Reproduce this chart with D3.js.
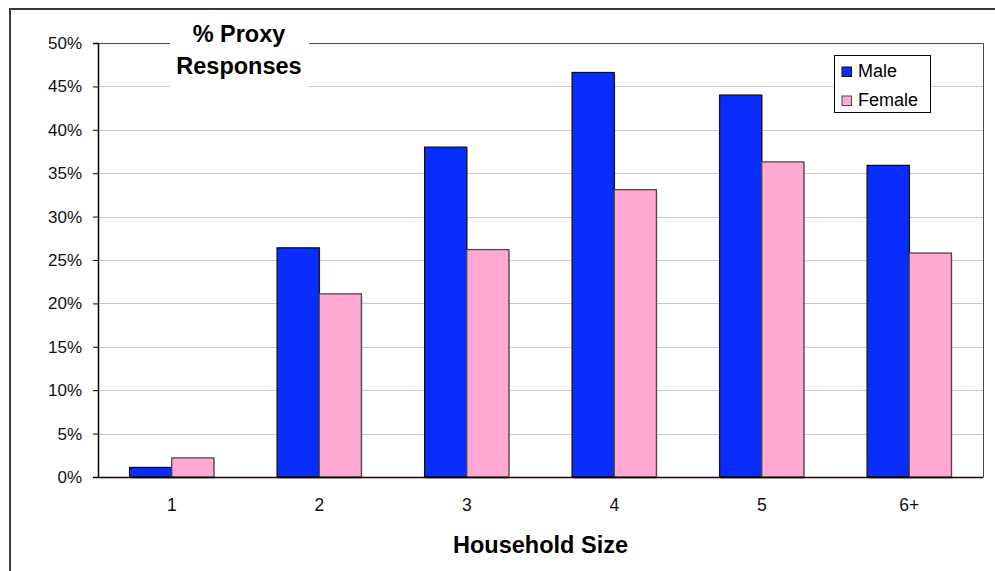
<!DOCTYPE html>
<html>
<head>
<meta charset="utf-8">
<script src="https://cdn.jsdelivr.net/npm/d3@7"></script>
<style>
  html, body { margin: 0; padding: 0; background: #fff; }
  svg { display: block; font-family: "Liberation Sans", Arial, sans-serif; }
</style>
</head>
<body>
<svg id="chart" width="995" height="571"></svg>
<script>
// Household size categories and share of proxy responses by sex
const categories = ["1", "2", "3", "4", "5", "6+"];
const seriesNames = ["Male", "Female"];
const maleValues = [0.011, 0.264, 0.380, 0.466, 0.440, 0.359];
const femaleValues = [0.022, 0.211, 0.262, 0.331, 0.363, 0.258];
const yTicks = [0, 0.05, 0.10, 0.15, 0.20, 0.25, 0.30, 0.35, 0.40, 0.45, 0.50];
const titleLines = ["% Proxy", "Responses"];
const xTitle = "Household Size";

const colors = { Male: "#0a2dff", Female: "#ffa9d3" };
const strokes = { Male: "#111111", Female: "#4a4a4a" };

const svg = d3.select("#chart");
const plot = { left: 98, right: 983, top: 43, bottom: 477 };

// outer chart frame (left and top edges visible)
svg.append("rect")
  .attr("x", 10).attr("y", 9).attr("width", 1000).attr("height", 600)
  .attr("fill", "none").attr("stroke", "#3a3a3a").attr("stroke-width", 2);

const y = d3.scaleLinear().domain([0, 0.5]).range([plot.bottom, plot.top]);
const x = d3.scaleBand().domain(categories)
  .range([plot.left, plot.right]).paddingInner(3 / 7).paddingOuter(1.5 / 7);
const xs = d3.scaleBand().domain(seriesNames).range([0, x.bandwidth()]);

// gridlines
svg.append("g")
  .selectAll("line").data(yTicks.filter(d => d > 0))
  .join("line")
  .attr("x1", plot.left).attr("x2", plot.right)
  .attr("y1", d => Math.round(y(d)) + 0.5).attr("y2", d => Math.round(y(d)) + 0.5)
  .attr("stroke", "#c8c8c8").attr("stroke-width", 1);

// plot area border (top and right)
svg.append("path")
  .attr("d", `M${plot.left},${Math.round(plot.top) + 0.5}H${plot.right + 0.5}V${plot.bottom}`)
  .attr("fill", "none").attr("stroke", "#4a4a4a").attr("stroke-width", 1);

// title box sitting over the top gridlines
const titleG = svg.append("g");
titleG.append("rect")
  .attr("x", 170).attr("y", 14).attr("width", 139).attr("height", 78)
  .attr("fill", "#fff");
titleG.selectAll("text").data(titleLines).join("text")
  .attr("x", 239).attr("y", (d, i) => 42 + i * 32)
  .attr("text-anchor", "middle")
  .attr("font-size", 23.5).attr("font-weight", "bold").attr("fill", "#000")
  .text(d => d);

// bars
const rows = categories.map((c, i) => ({ cat: c, Male: maleValues[i], Female: femaleValues[i] }));
const groups = svg.append("g").selectAll("g").data(rows).join("g")
  .attr("transform", d => `translate(${x(d.cat)},0)`);

// soft drop shadow under each bar
groups.selectAll("rect.shadow")
  .data(d => seriesNames.map(k => ({ key: k, value: d[k] })))
  .join("rect").attr("class", "shadow")
  .attr("x", d => xs(d.key) + 1)
  .attr("y", d => y(d.value) + 2)
  .attr("width", xs.bandwidth())
  .attr("height", d => y(0) - y(d.value))
  .attr("fill", "#000").attr("opacity", 0.25);

groups.selectAll("rect.bar")
  .data(d => seriesNames.map(k => ({ key: k, value: d[k] })))
  .join("rect").attr("class", "bar")
  .attr("x", d => xs(d.key))
  .attr("y", d => y(d.value))
  .attr("width", xs.bandwidth())
  .attr("height", d => y(0) - y(d.value))
  .attr("fill", d => colors[d.key])
  .attr("stroke", d => strokes[d.key]).attr("stroke-width", 1.3);

// y axis
const yAxis = d3.axisLeft(y).tickValues(yTicks)
  .tickFormat(d3.format(".0%")).tickSize(5).tickPadding(11);
const yG = svg.append("g").attr("transform", `translate(${plot.left},0)`).call(yAxis);
yG.select(".domain").attr("stroke", "#000").attr("stroke-width", 1.5);
yG.selectAll(".tick line").attr("stroke", "#000");
yG.selectAll("text").attr("font-size", 17).attr("fill", "#111")
  .attr("font-family", "Liberation Sans, Arial, sans-serif");

// x axis
const xAxis = d3.axisBottom(x).tickSize(0).tickPadding(22);
const xG = svg.append("g").attr("transform", `translate(0,${plot.bottom})`).call(xAxis);
xG.select(".domain").attr("stroke", "#1a0000").attr("stroke-width", 1.5);
xG.selectAll("text").attr("font-size", 17.5).attr("fill", "#111")
  .attr("font-family", "Liberation Sans, Arial, sans-serif");

// x axis title
svg.append("text")
  .attr("x", (plot.left + plot.right) / 2).attr("y", 553)
  .attr("text-anchor", "middle")
  .attr("font-size", 23.5).attr("font-weight", "bold").attr("fill", "#000")
  .text(xTitle);

// legend
const legend = svg.append("g");
legend.append("rect")
  .attr("x", 834.5).attr("y", 55.5).attr("width", 96).attr("height", 57)
  .attr("fill", "#fff").attr("stroke", "#000").attr("stroke-width", 1);
const items = legend.selectAll("g").data(seriesNames).join("g")
  .attr("transform", (d, i) => `translate(842,${67 + i * 29})`);
items.append("rect")
  .attr("width", 9.5).attr("height", 9.5)
  .attr("fill", d => colors[d]).attr("stroke", d => strokes[d]).attr("stroke-width", 1);
items.append("text")
  .attr("x", 16).attr("y", 10)
  .attr("font-size", 18).attr("fill", "#000")
  .text(d => d);
</script>
</body>
</html>
